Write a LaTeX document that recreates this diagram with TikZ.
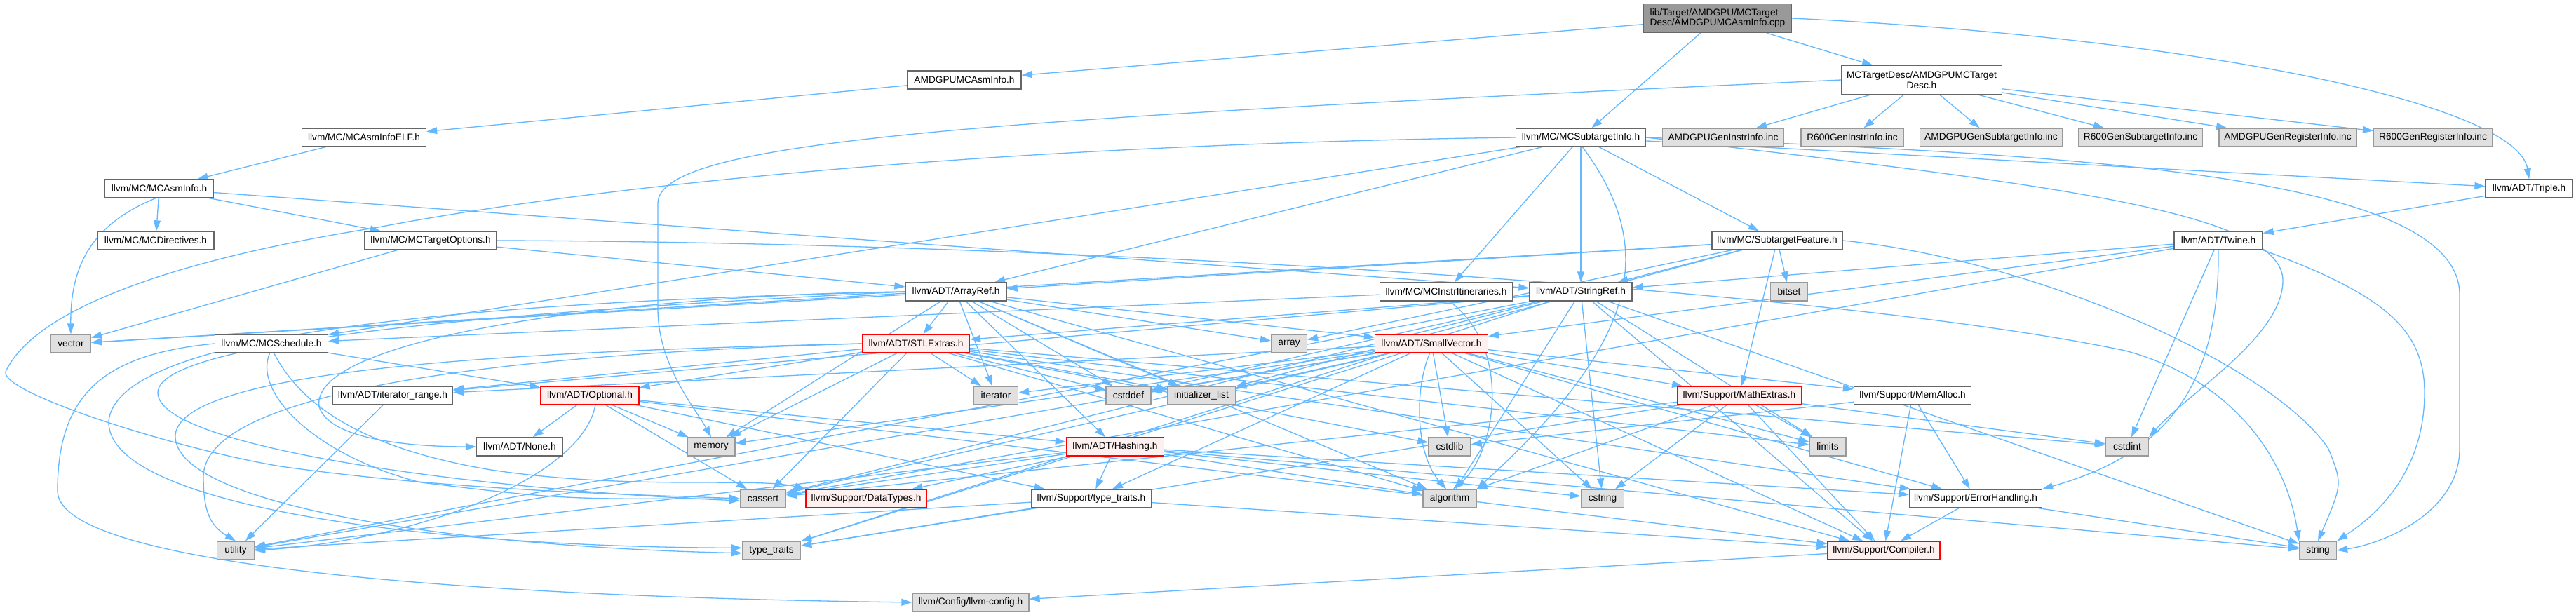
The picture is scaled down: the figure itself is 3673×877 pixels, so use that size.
\documentclass[tikz,border=0pt]{standalone}
\usepackage{fontspec}
\setmainfont{Liberation Sans}
\usetikzlibrary{arrows.meta,backgrounds}
\definecolor{edgec}{HTML}{63B8FF}
\definecolor{bord}{HTML}{666666}
\definecolor{sysfill}{HTML}{E0E0E0}
\definecolor{sysbord}{HTML}{999999}
\definecolor{mainfill}{HTML}{999999}
\definecolor{trfill}{HTML}{FFF0F0}
\begin{document}
\begin{tikzpicture}[x=1pt,y=-1pt,
  box/.style={draw=bord, fill=white, line width=1.3pt, minimum height=26pt, inner sep=0pt,
    font=\fontsize{13.7}{14.5}\selectfont},
  sys/.style={box, draw=sysbord, fill=sysfill},
  trunc/.style={box, draw=red, fill=trfill},
  e/.style={draw=edgec, line width=1.3pt, -{Triangle[length=15pt,width=10pt]}}
]
\useasboundingbox (0,0) rectangle (3673,877);
% ---------- nodes ----------
\node[box, fill=mainfill, minimum width=211pt, minimum height=41pt, align=left] (main) at (2449,26) {lib/Target/AMDGPU/MCTarget\\Desc/AMDGPUMCAsmInfo.cpp};
\node[box, minimum width=162pt] (amdasm) at (1375,114) {AMDGPUMCAsmInfo.h};
\node[box, minimum width=229pt, minimum height=41pt, align=center] (tdesc) at (2740,114) {MCTargetDesc/AMDGPUMCTarget\\Desc.h};
\node[box, minimum width=177pt] (elf) at (519,196) {llvm/MC/MCAsmInfoELF.h};
\node[box, minimum width=185pt] (sti) at (2254,196) {llvm/MC/MCSubtargetInfo.h};
\node[sys, minimum width=173pt] (geninstr) at (2457,196) {AMDGPUGenInstrInfo.inc};
\node[sys, minimum width=146pt] (r600instr) at (2641,196) {R600GenInstrInfo.inc};
\node[sys, minimum width=203pt] (gensub) at (2839,196) {AMDGPUGenSubtargetInfo.inc};
\node[sys, minimum width=177pt] (r600sub) at (3052,196) {R600GenSubtargetInfo.inc};
\node[sys, minimum width=196pt] (genreg) at (3262,196) {AMDGPUGenRegisterInfo.inc};
\node[sys, minimum width=169pt] (r600reg) at (3469,196) {R600GenRegisterInfo.inc};
\node[box, minimum width=155pt] (asminfo) at (227,269) {llvm/MC/MCAsmInfo.h};
\node[box, minimum width=124pt] (triple) at (3606,269) {llvm/ADT/Triple.h};
\node[box, minimum width=166pt] (directives) at (222,343) {llvm/MC/MCDirectives.h};
\node[box, minimum width=188pt] (targetopts) at (614,343) {llvm/MC/MCTargetOptions.h};
\node[box, minimum width=186pt] (subfeat) at (2534,343) {llvm/MC/SubtargetFeature.h};
\node[box, minimum width=126pt] (twine) at (3163,343) {llvm/ADT/Twine.h};
\node[box, minimum width=144pt] (arrayref) at (1363,416) {llvm/ADT/ArrayRef.h};
\node[box, minimum width=189pt] (itin) at (2062,416) {llvm/MC/MCInstrItineraries.h};
\node[box, minimum width=146pt] (stringref) at (2254,416) {llvm/ADT/StringRef.h};
\node[sys, minimum width=53pt] (bitset) at (2551,416) {bitset};
\node[sys, minimum width=57pt] (vector) at (101,490) {vector};
\node[box, minimum width=161pt] (sched) at (387,490) {llvm/MC/MCSchedule.h};
\node[trunc, minimum width=153pt] (stlextras) at (1306,490) {llvm/ADT/STLExtras.h};
\node[sys, minimum width=51pt] (array) at (1838,490) {array};
\node[trunc, minimum width=161pt] (smallvec) at (2041,490) {llvm/ADT/SmallVector.h};
\node[box, minimum width=171pt] (itrange) at (560,564) {llvm/ADT/iterator\_range.h};
\node[trunc, minimum width=140pt] (optional) at (841,564) {llvm/ADT/Optional.h};
\node[sys, minimum width=63pt] (iterator) at (1420,564) {iterator};
\node[sys, minimum width=64pt] (cstddef) at (1609,564) {cstddef};
\node[sys, minimum width=97pt] (initlist) at (1713,564) {initializer\_list};
\node[trunc, minimum width=177pt] (mathextras) at (2480,564) {llvm/Support/MathExtras.h};
\node[box, minimum width=167pt] (memalloc) at (2727,564) {llvm/Support/MemAlloc.h};
\node[box, minimum width=123pt] (none) at (741,637) {llvm/ADT/None.h};
\node[sys, minimum width=68pt] (memory) at (1014,637) {memory};
\node[trunc, minimum width=139pt] (hashing) at (1590,637) {llvm/ADT/Hashing.h};
\node[sys, minimum width=60pt] (cstdlib) at (2067,637) {cstdlib};
\node[sys, minimum width=52pt] (limits) at (2606,637) {limits};
\node[sys, minimum width=61pt] (cstdint) at (3033,637) {cstdint};
\node[sys, minimum width=65pt] (cassert) at (1088,711) {cassert};
\node[trunc, minimum width=172pt] (datatypes) at (1235,711) {llvm/Support/DataTypes.h};
\node[box, minimum width=171pt] (sttraits) at (1556,711) {llvm/Support/type\_traits.h};
\node[sys, minimum width=76pt] (algorithm) at (2067,711) {algorithm};
\node[sys, minimum width=61pt] (cstring) at (2285,711) {cstring};
\node[box, minimum width=189pt] (errhandling) at (2817,711) {llvm/Support/ErrorHandling.h};
\node[sys, minimum width=53pt] (utility) at (336,785) {utility};
\node[sys, minimum width=83pt] (typetraits) at (1100,785) {type\_traits};
\node[trunc, minimum width=160pt] (compiler) at (2686,785) {llvm/Support/Compiler.h};
\node[sys, minimum width=53pt] (string) at (3305,785) {string};
\node[sys, minimum width=166pt] (llvmconfig) at (1384,859) {llvm/Config/llvm-config.h};
% ---------- edges ----------
\begin{scope}[on background layer]
\fill[white] (0,0) rectangle (3673,877);
% main
\draw[e] (main) -- (amdasm);
\draw[e] (main) -- (tdesc);
\draw[e] (main) -- (sti);
\draw[e] (main.east) .. controls (3150,55) and (3590,150) .. (triple.north);
\draw[e] (amdasm) -- (elf);
\draw[e] (elf) -- (asminfo);
% MCAsmInfo
\draw[e] (asminfo) -- (directives);
\draw[e] (asminfo) -- (targetopts);
\draw[e] (asminfo.250) .. controls (130,320) and (100,380) .. (vector.north);
\draw[e] (asminfo) -- (stringref);
% MCTargetOptions
\draw[e] (targetopts) -- (arrayref);
\draw[e] (targetopts.east) .. controls (1500,345) and (2600,410) .. (3030,500) .. controls (3180,540) and (3260,650) .. (string.north west);
\draw[e] (targetopts) -- (vector);
% MCTargetDesc
\draw[e] (tdesc) -- (geninstr);
\draw[e] (tdesc) -- (r600instr);
\draw[e] (tdesc) -- (gensub);
\draw[e] (tdesc) -- (r600sub);
\draw[e] (tdesc) -- (genreg);
\draw[e] (tdesc) -- (r600reg);
\draw[e] (tdesc.west) .. controls (1400,170) and (938,200) .. (938,290) -- (938,440) .. controls (938,520) and (990,580) .. (memory.north);
% MCSubtargetInfo
\draw[e] (sti) -- (arrayref);
\draw[e] (sti) -- (stringref);
\draw[e] (sti) -- (triple);
\draw[e] (sti) -- (itin);
\draw[e] (sti) -- (sched);
\draw[e] (sti) -- (subfeat);
\draw[e] (sti.-80) .. controls (2360,350) and (2345,480) .. (algorithm.north east);
\draw[e] (sti.west) .. controls (1500,205) and (900,255) .. (534,325) .. controls (250,370) and (50,440) .. (8,530) .. controls (0,560) and (250,640) .. (400,665) .. controls (650,700) and (900,705) .. (cassert.west);
\draw[e] (sti.east) .. controls (2900,260) and (3255,300) .. (3255,400) .. controls (3255,480) and (3120,560) .. (cstdint.north east);
\draw[e] (sti.east) .. controls (2900,220) and (3507,240) .. (3507,420) -- (3507,640) .. controls (3507,730) and (3400,775) .. (string.east);
% Triple, Twine
\draw[e] (triple) -- (twine);
\draw[e] (twine) -- (smallvec);
\draw[e] (twine) -- (stringref);
\draw[e] (twine.south) .. controls (3165,560) and (3080,650) .. (errhandling.north east);
\draw[e] (twine) -- (cassert);
\draw[e] (twine) -- (cstdint);
\draw[e] (twine.south east) .. controls (3400,420) and (3457,470) .. (3457,560) .. controls (3457,680) and (3380,740) .. (string.north east);
% SubtargetFeature
\draw[e] (subfeat) -- (arrayref);
\draw[e] (subfeat) -- (stringref);
\draw[e] (subfeat) -- (mathextras);
\draw[e] (subfeat) -- (array);
\draw[e] (subfeat) -- (bitset);
\draw[e] (subfeat) -- (initlist);
\draw[e] (subfeat.east) .. controls (2900,370) and (3240,520) .. (3320,640) .. controls (3340,690) .. (string.north);
\draw[e] (subfeat) -- (vector);
% MCInstrItineraries
\draw[e] (itin) -- (sched);
\draw[e] (itin.-70) .. controls (2160,500) and (2130,650) .. (algorithm.70);
% MCSchedule
\draw[e] (sched) -- (optional);
\draw[e] (sched.west) .. controls (150,505) and (82,560) .. (82,700) .. controls (82,800) and (600,850) .. (llvmconfig.west);
\draw[e] (sched.-75) .. controls (430,580) and (520,640) .. (700,670) .. controls (900,700) and (1080,680) .. (datatypes.north west);
\draw[e] (sched.-100) .. controls (360,560) and (450,650) .. (600,688) .. controls (800,712) .. (cassert.west);
% ArrayRef
\draw[e] (arrayref) -- (hashing);
\draw[e] (arrayref.west) .. controls (900,420) and (440,480) .. (455,580) .. controls (470,630) and (600,637) .. (none.west);
\draw[e] (arrayref) -- (smallvec);
\draw[e] (arrayref) -- (stlextras);
\draw[e] (arrayref) -- (compiler);
\draw[e] (arrayref) -- (algorithm);
\draw[e] (arrayref) -- (array);
\draw[e] (arrayref.west) .. controls (800,440) and (225,480) .. (225,560) .. controls (225,640) and (700,700) .. (cassert.185);
\draw[e] (arrayref) -- (cstddef);
\draw[e] (arrayref) -- (initlist);
\draw[e] (arrayref) -- (iterator);
\draw[e] (arrayref) -- (memory);
\draw[e] (arrayref.west) .. controls (700,430) and (170,470) .. (155,600) .. controls (150,720) and (600,780) .. (typetraits.175);
\draw[e] (arrayref) -- (vector);
% StringRef
\draw[e] (stringref) -- (stlextras);
\draw[e] (stringref) -- (itrange);
\draw[e] (stringref) -- (compiler);
\draw[e] (stringref) -- (algorithm);
\draw[e] (stringref) -- (cassert);
\draw[e] (stringref) -- (cstddef);
\draw[e] (stringref) -- (cstring);
\draw[e] (stringref) -- (limits);
\draw[e] (stringref) -- (string);
\draw[e] (stringref) -- (typetraits);
\draw[e] (stringref) -- (utility);
% STLExtras
\draw[e] (stlextras) -- (optional);
\draw[e] (stlextras) -- (itrange);
\draw[e] (stlextras) -- (errhandling);
\draw[e] (stlextras) -- (algorithm);
\draw[e] (stlextras) -- (cassert);
\draw[e] (stlextras) -- (cstddef);
\draw[e] (stlextras) -- (cstdint);
\draw[e] (stlextras) -- (cstdlib);
\draw[e] (stlextras) -- (initlist);
\draw[e] (stlextras) -- (iterator);
\draw[e] (stlextras) -- (limits);
\draw[e] (stlextras) -- (memory);
\draw[e] (stlextras.west) .. controls (800,500) and (260,520) .. (250,620) .. controls (245,720) and (650,780) .. (typetraits.185);
\draw[e] (stlextras.west) .. controls (700,505) and (290,560) .. (290,680) .. controls (290,730) and (300,750) .. (utility.north);
% SmallVector
\draw[e] (smallvec) -- (itrange);
\draw[e] (smallvec) -- (compiler);
\draw[e] (smallvec) -- (errhandling);
\draw[e] (smallvec) -- (mathextras);
\draw[e] (smallvec) -- (memalloc);
\draw[e] (smallvec) -- (sttraits);
\draw[e] (smallvec.-100) .. controls (2015,560) and (2020,650) .. (algorithm.110);
\draw[e] (smallvec) -- (cassert);
\draw[e] (smallvec) -- (cstddef);
\draw[e] (smallvec) -- (cstdlib);
\draw[e] (smallvec) -- (cstring);
\draw[e] (smallvec) -- (initlist);
\draw[e] (smallvec) -- (iterator);
\draw[e] (smallvec) -- (limits);
\draw[e] (smallvec) -- (memory);
\draw[e] (smallvec) -- (typetraits);
\draw[e] (smallvec) -- (utility);
% Optional
\draw[e] (optional) -- (hashing);
\draw[e] (optional) -- (none);
\draw[e] (optional) -- (compiler);
\draw[e] (optional) -- (sttraits);
\draw[e] (optional) -- (cassert);
\draw[e] (optional) -- (memory);
\draw[e] (optional.-60) .. controls (830,680) and (600,770) .. (utility.east);
% Hashing
\draw[e] (hashing) -- (datatypes);
\draw[e] (hashing) -- (errhandling);
\draw[e] (hashing) -- (sttraits);
\draw[e] (hashing) -- (algorithm);
\draw[e] (hashing) -- (cassert);
\draw[e] (hashing) -- (cstring);
\draw[e] (hashing) -- (string);
\draw[e] (hashing) -- (utility);
% MathExtras
\draw[e] (mathextras) -- (compiler);
\draw[e] (mathextras) -- (cassert);
\draw[e] (mathextras) -- (cstdint);
\draw[e] (mathextras) -- (cstring);
\draw[e] (mathextras) -- (limits);
\draw[e] (mathextras) -- (typetraits);
\draw[e] (mathextras) -- (algorithm);
% MemAlloc
\draw[e] (memalloc) -- (compiler);
\draw[e] (memalloc) -- (errhandling);
\draw[e] (memalloc) -- (cstdlib);
% ErrorHandling, type_traits, iterator_range, Compiler
\draw[e] (errhandling) -- (compiler);
\draw[e] (errhandling) -- (string);
\draw[e] (sttraits) -- (compiler);
\draw[e] (sttraits) -- (typetraits);
\draw[e] (sttraits) -- (utility);
\draw[e] (itrange) -- (utility);
\draw[e] (compiler) -- (llvmconfig);
\end{scope}
\end{tikzpicture}
\end{document}
